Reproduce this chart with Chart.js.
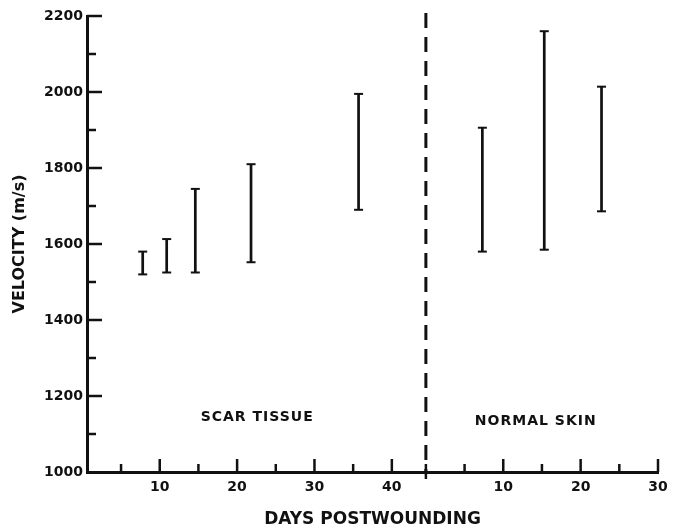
<!DOCTYPE html>
<html>
<head>
<meta charset="utf-8">
<script src="https://cdn.jsdelivr.net/npm/chart.js@4"></script>
<style>
  body { margin: 0; background: #fff; }
  #wrap { width: 678px; height: 530px; }
</style>
</head>
<body>
<div id="wrap"><canvas id="chart" width="678" height="530"></canvas></div>
<script>
// data
const scarDays   = [7.8, 10.9, 14.6, 21.8, 35.7];
const scarLow    = [1520, 1525, 1525, 1552, 1690];
const scarHigh   = [1580, 1613, 1745, 1810, 1995];

const normalDays = [7.3, 15.3, 22.7];
const normalLow  = [1580, 1585, 1686];
const normalHigh = [1906, 2160, 2014];

// normal skin days start where the dashed line is (scar day 44.4)
const NORMAL_OFFSET = 44.4;
const X_MIN = 0.6, X_MAX = 74.4;
const Y_MIN = 1000, Y_MAX = 2200;
const DIVIDER_TOP = 2208;

const scarTicks   = [5, 10, 15, 20, 25, 30, 35, 40];
const normalTicks = [0, 5, 10, 15, 20, 25, 30];

const regionLabels  = ['SCAR TISSUE', 'NORMAL SKIN'];
const regionLabelX  = [22.6, 58.6];
const regionLabelY  = [1143, 1133];

const INK = '#111';

// one vertical line per range, null breaks between them
function rangeSegments(days, lo, hi, shift) {
    const pts = [];
    days.forEach((d, i) => {
        pts.push({ x: d + shift, y: lo[i] });
        pts.push({ x: d + shift, y: hi[i] });
        pts.push({ x: d + shift, y: null });
    });
    return pts;
}
function rangeCaps(days, lo, hi, shift) {
    const pts = [];
    days.forEach((d, i) => {
        pts.push({ x: d + shift, y: lo[i] });
        pts.push({ x: d + shift, y: hi[i] });
    });
    return pts;
}

const allSegments = rangeSegments(scarDays, scarLow, scarHigh, 0)
    .concat(rangeSegments(normalDays, normalLow, normalHigh, NORMAL_OFFSET));
const allCaps = rangeCaps(scarDays, scarLow, scarHigh, 0)
    .concat(rangeCaps(normalDays, normalLow, normalHigh, NORMAL_OFFSET));

const xTickValues = scarTicks.concat(normalTicks.map(t => t + NORMAL_OFFSET));

function xLabel(v) {
    if (v < NORMAL_OFFSET - 0.01) {
        return (Math.round(v) % 10 === 0) ? String(Math.round(v)) : '';
    }
    const d = Math.round(v - NORMAL_OFFSET);
    return (d > 0 && d % 10 === 0) ? String(d) : '';
}

// inward tick marks + region names
const inwardTicks = {
    id: 'inwardTicks',
    afterDraw(chart) {
        const ctx = chart.ctx;
        const area = chart.chartArea;
        const xs = chart.scales.x, ys = chart.scales.y;
        ctx.save();
        ctx.strokeStyle = INK;
        ctx.lineWidth = 2.5;
        ctx.lineCap = 'butt';

        ys.ticks.forEach(t => {
            if (t.value <= Y_MIN) return;
            const py = ys.getPixelForValue(t.value);
            const len = (t.value % 200 === 0) ? 15 : 9;
            ctx.beginPath();
            ctx.moveTo(area.left, py);
            ctx.lineTo(area.left + len, py);
            ctx.stroke();
        });

        xTickValues.forEach(v => {
            const px = xs.getPixelForValue(v);
            const isDivider = Math.abs(v - NORMAL_OFFSET) < 0.01;
            const major = xLabel(v) !== '';
            const len = major ? 13 : 8;
            ctx.beginPath();
            ctx.moveTo(px, area.bottom + (isDivider ? 7 : 0));
            ctx.lineTo(px, area.bottom - (isDivider ? 8 : len));
            ctx.stroke();
        });

        ctx.fillStyle = INK;
        ctx.font = 'bold 14px "DejaVu Sans"';
        ctx.letterSpacing = '1px';
        ctx.textAlign = 'center';
        ctx.textBaseline = 'middle';
        regionLabels.forEach((txt, i) => {
            ctx.fillText(txt, xs.getPixelForValue(regionLabelX[i]), ys.getPixelForValue(regionLabelY[i]));
        });
        ctx.restore();
    }
};

Chart.defaults.font.family = '"DejaVu Sans", sans-serif';
Chart.defaults.font.weight = 'bold';
Chart.defaults.color = INK;

new Chart(document.getElementById('chart'), {
    type: 'scatter',
    data: {
        datasets: [
            {
                label: 'ranges',
                data: allSegments,
                showLine: true,
                spanGaps: false,
                borderColor: INK,
                borderWidth: 2.7,
                pointRadius: 0
            },
            {
                label: 'caps',
                data: allCaps,
                showLine: false,
                pointStyle: 'line',
                pointRadius: 4.5,
                borderColor: INK,
                borderWidth: 2,
                backgroundColor: INK
            },
            {
                // drawn from the top down so the dash pattern starts at the top
                label: 'divider',
                data: [{ x: NORMAL_OFFSET, y: DIVIDER_TOP }, { x: NORMAL_OFFSET, y: Y_MIN }],
                showLine: true,
                borderColor: INK,
                borderWidth: 3,
                borderDash: [15, 9],
                pointRadius: 0,
                clip: false
            }
        ]
    },
    options: {
        responsive: false,
        animation: false,
        layout: { padding: { top: 16, right: 20, bottom: 0, left: 0 } },
        plugins: { legend: { display: false }, tooltip: { enabled: false } },
        scales: {
            x: {
                type: 'linear',
                min: X_MIN,
                max: X_MAX,
                afterBuildTicks(scale) {
                    scale.ticks = xTickValues.map(v => ({ value: v }));
                },
                afterFit(scale) { scale.height = 58; },
                grid: { display: false, drawTicks: false },
                border: { display: true, color: INK, width: 3 },
                ticks: {
                    autoSkip: false,
                    maxRotation: 0,
                    padding: 7,
                    font: { size: 14 },
                    callback: v => xLabel(v)
                },
                title: {
                    display: true,
                    text: 'DAYS POSTWOUNDING',
                    font: { size: 17 },
                    padding: { top: 0, bottom: 0 }
                }
            },
            y: {
                min: Y_MIN,
                max: Y_MAX,
                afterFit(scale) { scale.width = 87; },
                grid: { display: false, drawTicks: false },
                border: { display: true, color: INK, width: 3 },
                ticks: {
                    stepSize: 100,
                    padding: 4,
                    font: { size: 14 },
                    callback: v => (v % 200 === 0 ? String(v) : '')
                },
                title: {
                    display: true,
                    text: 'VELOCITY (m/s)',
                    font: { size: 16 },
                    padding: { top: 10, bottom: 0 }
                }
            }
        }
    },
    plugins: [inwardTicks]
});
</script>
</body>
</html>
